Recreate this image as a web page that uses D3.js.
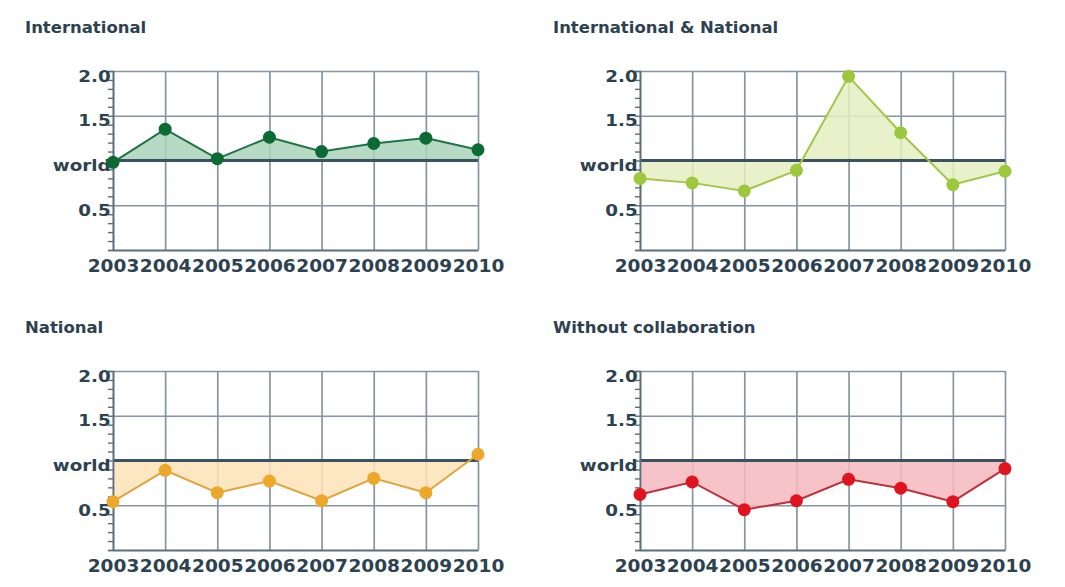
<!DOCTYPE html>
<html>
<head>
<meta charset="utf-8">
<script src="https://cdn.jsdelivr.net/npm/d3@7"></script>
<style>
  html, body { margin: 0; padding: 0; background: #ffffff; }
  svg { display: block; }
  text { font-family: "DejaVu Sans", Verdana, sans-serif; font-weight: bold; fill: #2d4250; }
</style>
</head>
<body>
<svg id="chart" width="1065" height="587"></svg>
<script>
// ---- data ----
const years = ["2003", "2004", "2005", "2006", "2007", "2008", "2009", "2010"];
const panelTitles = ["International", "International & National", "National", "Without collaboration"];
const internationalValues = [0.98, 1.35, 1.02, 1.26, 1.10, 1.19, 1.25, 1.12];
const intNationalValues   = [0.80, 0.75, 0.66, 0.89, 1.94, 1.31, 0.73, 0.88];
const nationalValues      = [0.54, 0.89, 0.64, 0.77, 0.55, 0.80, 0.64, 1.07];
const withoutValues       = [0.62, 0.76, 0.45, 0.55, 0.79, 0.69, 0.54, 0.91];
const yTickValues = [0.5, 1.0, 1.5, 2.0];
const yTickLabels = ["0.5", "world", "1.5", "2.0"];
const worldLevel = 1.0;
const yDomain = [0, 2];

// ---- styles ----
const seriesList = [internationalValues, intNationalValues, nationalValues, withoutValues];
const styles = [
  { line: "#1f7444", dot: "#0c6b33", fill: "#a9d4b9" },
  { line: "#a3c64a", dot: "#9dc83c", fill: "#e5efc1" },
  { line: "#e0a43a", dot: "#eda82c", fill: "#fde3b8" },
  { line: "#c0303c", dot: "#e0141f", fill: "#f5b9c0" }
];
const panelOrigins = [
  { left: 113, top: 71, titleX: 25, titleY: 33 },
  { left: 640, top: 71, titleX: 553, titleY: 33 },
  { left: 113, top: 371, titleX: 25, titleY: 333 },
  { left: 640, top: 371, titleX: 553, titleY: 333 }
];
const plotW = 365, plotH = 179;
const gridColor = "#8596a2";
const axisColor = "#5d6f7b";

const svg = d3.select("#chart");

panelOrigins.forEach((p, i) => {
  const values = seriesList[i];
  const st = styles[i];

  svg.append("text")
    .attr("transform", `translate(${p.titleX},${p.titleY}) scale(1.03,1)`)
    .style("font-size", "16px")
    .text(panelTitles[i]);

  const g = svg.append("g").attr("transform", `translate(${p.left},${p.top})`);

  const x = d3.scalePoint().domain(years).range([0, plotW]);
  const y = d3.scaleLinear().domain(yDomain).range([plotH, 0]);

  // vertical grid
  g.append("g")
    .call(d3.axisBottom(x).tickSize(plotH).tickFormat(""))
    .call(s => s.select(".domain").remove())
    .call(s => s.selectAll(".tick line").attr("stroke", gridColor).attr("stroke-width", 1.7));

  // horizontal grid (except world)
  g.append("g")
    .call(d3.axisLeft(y).tickValues(yTickValues.filter(v => v !== worldLevel)).tickSize(-plotW).tickFormat(""))
    .call(s => s.select(".domain").remove())
    .call(s => s.selectAll(".tick line").attr("stroke", gridColor).attr("stroke-width", 1.7));

  // area between series and world line
  const area = d3.area()
    .x((d, k) => x(years[k]))
    .y0(y(worldLevel))
    .y1(d => y(d));
  g.append("path")
    .datum(values)
    .attr("d", area)
    .attr("fill", st.fill)
    .attr("fill-opacity", 0.85);

  // world line
  g.append("line")
    .attr("x1", 0).attr("x2", plotW)
    .attr("y1", y(worldLevel)).attr("y2", y(worldLevel))
    .attr("stroke", "#3b5260").attr("stroke-width", 2.8);

  // minor ticks + left axis
  const minor = d3.range(0, 2.0001, 0.1).map(v => +v.toFixed(1));
  g.append("g")
    .call(d3.axisLeft(y).tickValues(minor).tickSize(5).tickFormat(""))
    .call(s => s.select(".domain").attr("stroke", axisColor).attr("stroke-width", 1.7))
    .call(s => s.selectAll(".tick line").attr("stroke", axisColor).attr("stroke-width", 1.4));

  // y labels
  g.append("g")
    .call(d3.axisLeft(y).tickValues(yTickValues).tickSize(0).tickPadding(2)
      .tickFormat(v => yTickLabels[yTickValues.indexOf(v)]))
    .call(s => s.select(".domain").remove())
    .call(s => s.selectAll(".tick text")
      .attr("font-family", null).attr("font-size", null)
      .style("font-size", "15.5px")
      .attr("dy", "0.66em")
      .attr("transform", "scale(1.18,1)")
      .attr("fill", "#2d4250"));

  // bottom axis with labels
  g.append("g")
    .attr("transform", `translate(0,${plotH})`)
    .call(d3.axisBottom(x).tickSize(0).tickPadding(10))
    .call(s => s.select(".domain").attr("stroke", axisColor).attr("stroke-width", 1.8))
    .call(s => s.selectAll(".tick text")
      .attr("font-family", null).attr("font-size", null)
      .style("font-size", "17.5px")
      .attr("transform", "scale(1.06,1)")
      .attr("fill", "#2d4250"));

  // series line
  const line = d3.line().x((d, k) => x(years[k])).y(d => y(d));
  g.append("path")
    .datum(values)
    .attr("d", line)
    .attr("fill", "none")
    .attr("stroke", st.line)
    .attr("stroke-width", 2);

  // dots
  g.selectAll("circle.dot")
    .data(values)
    .join("circle")
    .attr("class", "dot")
    .attr("cx", (d, k) => x(years[k]))
    .attr("cy", d => y(d))
    .attr("r", 6.5)
    .attr("fill", st.dot);
});
</script>
</body>
</html>
